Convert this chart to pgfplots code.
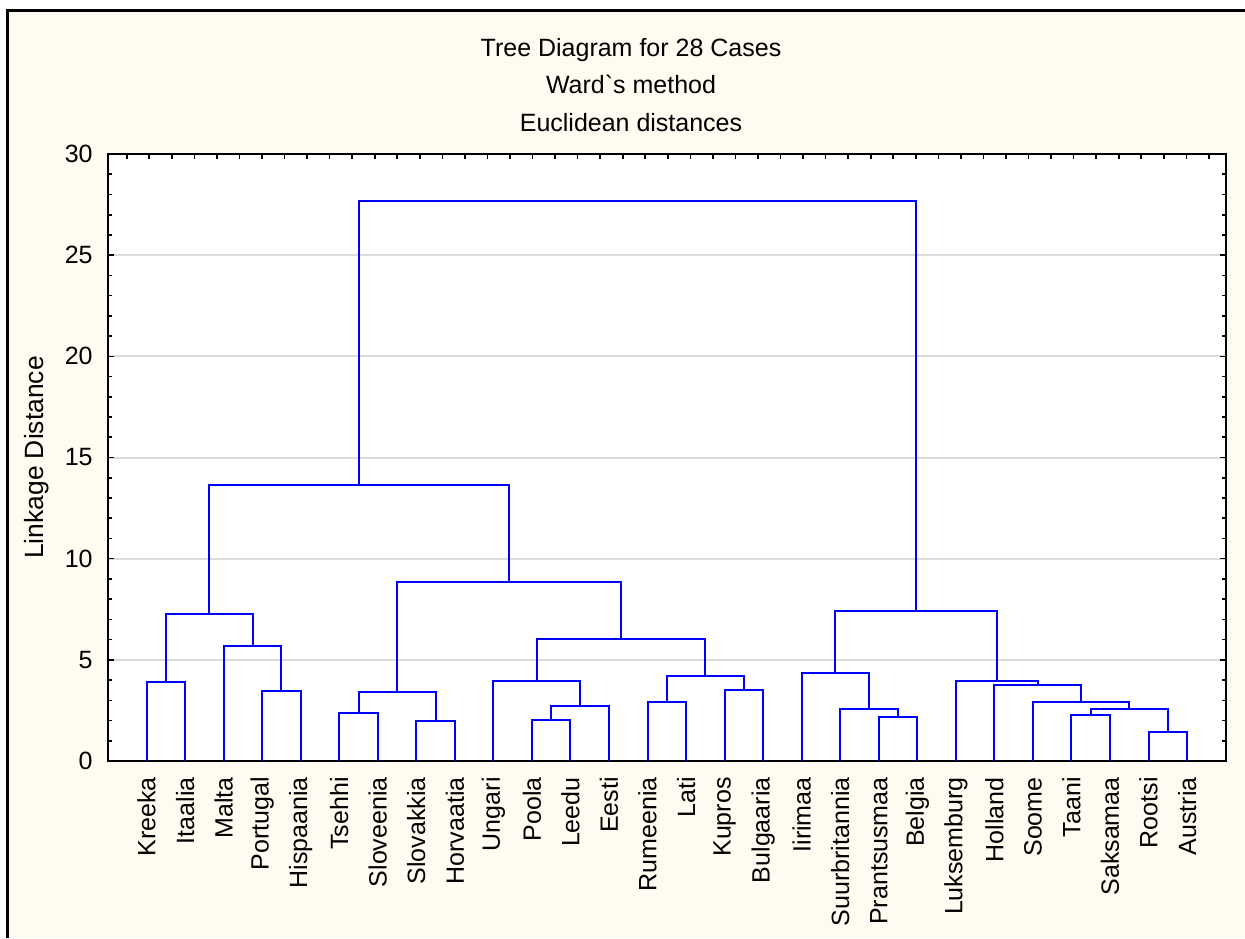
\documentclass[border=0pt]{standalone}
\usepackage{fontspec}
\setmainfont{Liberation Sans}[Ligatures=TeXOff]
\usepackage{pgfplots}
\pgfplotsset{compat=1.18}

\definecolor{cream}{RGB}{255,251,240}
\definecolor{treeblue}{RGB}{0,0,255}
\definecolor{gridgray}{RGB}{220,220,220}

% one cluster join: left child (x,h), join height, right child (x,h)
\pgfplotsset{seg/.style={treeblue, line width=1pt, mark=none, line join=miter}}

\begin{document}
\begin{tikzpicture}
\useasboundingbox (0,0) rectangle (622.5pt,469pt);
\fill[cream] (3.5pt,0) rectangle (622.5pt,463.5pt);
\draw[line width=1.5pt] (3.5pt,0) -- (3.5pt,463.5pt) -- (622.5pt,463.5pt);

\node[anchor=base,font=\fontsize{12.5}{15}\selectfont] at (315.5pt,440.6pt) {Tree Diagram for 28 Cases};
\node[anchor=base,font=\fontsize{12.5}{15}\selectfont] at (315.5pt,422.3pt) {Ward`s method};
\node[anchor=base,font=\fontsize{12.5}{15}\selectfont] at (315.5pt,403.1pt) {Euclidean distances};

\begin{axis}[
    at={(54pt,88.5pt)}, anchor=south west,
    scale only axis, width=558.8pt, height=303.5pt,
    xmin=0, xmax=29, ymin=0, ymax=30,
    axis background/.style={fill=white},
    axis line style={black, line width=1pt},
    tick align=inside,
    tick style={black, line width=0.8pt},
    major tick length=3pt, minor tick length=1.8pt,
    xtick={1,...,28}, xtick pos=lower,
    xticklabels={Kreeka,Itaalia,Malta,Portugal,Hispaania,Tsehhi,Sloveenia,Slovakkia,Horvaatia,Ungari,Poola,Leedu,Eesti,Rumeenia,Lati,Kupros,Bulgaaria,Iirimaa,Suurbritannia,Prantsusmaa,Belgia,Luksemburg,Holland,Soome,Taani,Saksamaa,Rootsi,Austria},
    xticklabel style={rotate=90, anchor=east, inner sep=0pt, font=\fontsize{12.5}{15}\selectfont},
    xticklabel shift=8pt,
    ytick={0,5,...,30}, minor y tick num=4, ytick pos=both,
    yticklabel style={inner sep=0pt, font=\fontsize{12.5}{15}\selectfont},
    yticklabel shift=7.5pt,
    /pgf/number format/assume math mode=true,
    ymajorgrids, major grid style={gridgray, line width=1pt},
    ylabel={Linkage Distance},
    every axis y label/.style={at={(axis description cs:-0.0635,0.5)}, rotate=90, anchor=center, font=\fontsize{13.2}{16}\selectfont},
]
% left group
\addplot[seg] coordinates {(1,0) (1,3.90) (2,3.90) (2,0)};
\addplot[seg] coordinates {(4,0) (4,3.47) (5,3.47) (5,0)};
\addplot[seg] coordinates {(3,0) (3,5.67) (4.5,5.67) (4.5,3.47)};
\addplot[seg] coordinates {(1.5,3.90) (1.5,7.28) (3.75,7.28) (3.75,5.67)};
\addplot[seg] coordinates {(6,0) (6,2.37) (7,2.37) (7,0)};
\addplot[seg] coordinates {(8,0) (8,1.96) (9,1.96) (9,0)};
\addplot[seg] coordinates {(6.5,2.37) (6.5,3.41) (8.5,3.41) (8.5,1.96)};
\addplot[seg] coordinates {(11,0) (11,2.01) (12,2.01) (12,0)};
\addplot[seg] coordinates {(11.5,2.01) (11.5,2.70) (13,2.70) (13,0)};
\addplot[seg] coordinates {(10,0) (10,3.97) (12.25,3.97) (12.25,2.70)};
\addplot[seg] coordinates {(14,0) (14,2.90) (15,2.90) (15,0)};
\addplot[seg] coordinates {(16,0) (16,3.51) (17,3.51) (17,0)};
\addplot[seg] coordinates {(14.5,2.90) (14.5,4.18) (16.5,4.18) (16.5,3.51)};
\addplot[seg] coordinates {(11.125,3.97) (11.125,6.04) (15.5,6.04) (15.5,4.18)};
\addplot[seg] coordinates {(7.5,3.41) (7.5,8.84) (13.3125,8.84) (13.3125,6.04)};
\addplot[seg] coordinates {(2.625,7.28) (2.625,13.65) (10.40625,13.65) (10.40625,8.84)};
% right group
\addplot[seg] coordinates {(20,0) (20,2.16) (21,2.16) (21,0)};
\addplot[seg] coordinates {(19,0) (19,2.55) (20.5,2.55) (20.5,2.16)};
\addplot[seg] coordinates {(18,0) (18,4.33) (19.75,4.33) (19.75,2.55)};
\addplot[seg] coordinates {(25,0) (25,2.26) (26,2.26) (26,0)};
\addplot[seg] coordinates {(27,0) (27,1.43) (28,1.43) (28,0)};
\addplot[seg] coordinates {(25.5,2.26) (25.5,2.57) (27.5,2.57) (27.5,1.43)};
\addplot[seg] coordinates {(24,0) (24,2.92) (26.5,2.92) (26.5,2.57)};
\addplot[seg] coordinates {(23,0) (23,3.77) (25.25,3.77) (25.25,2.92)};
\addplot[seg] coordinates {(22,0) (22,3.97) (24.125,3.97) (24.125,3.77)};
\addplot[seg] coordinates {(18.875,4.33) (18.875,7.40) (23.0625,7.40) (23.0625,3.97)};
% root
\addplot[seg] coordinates {(6.515625,13.65) (6.515625,27.67) (20.96875,27.67) (20.96875,7.40)};
\end{axis}

% minor ticks along the top edge
\begin{axis}[
    at={(54pt,88.5pt)}, anchor=south west,
    scale only axis, width=558.8pt, height=303.5pt,
    xmin=-0.83, xmax=48.74, ymin=0, ymax=30,
    hide y axis,
    axis line style={draw=none},
    tick align=inside, major tick length=2.5pt,
    tick style={black, line width=0.8pt},
    xtick={0,...,48}, xtick pos=upper, xticklabels={},
]
\addplot[draw=none] coordinates {(0,0) (48,30)};
\end{axis}
\end{tikzpicture}
\end{document}
